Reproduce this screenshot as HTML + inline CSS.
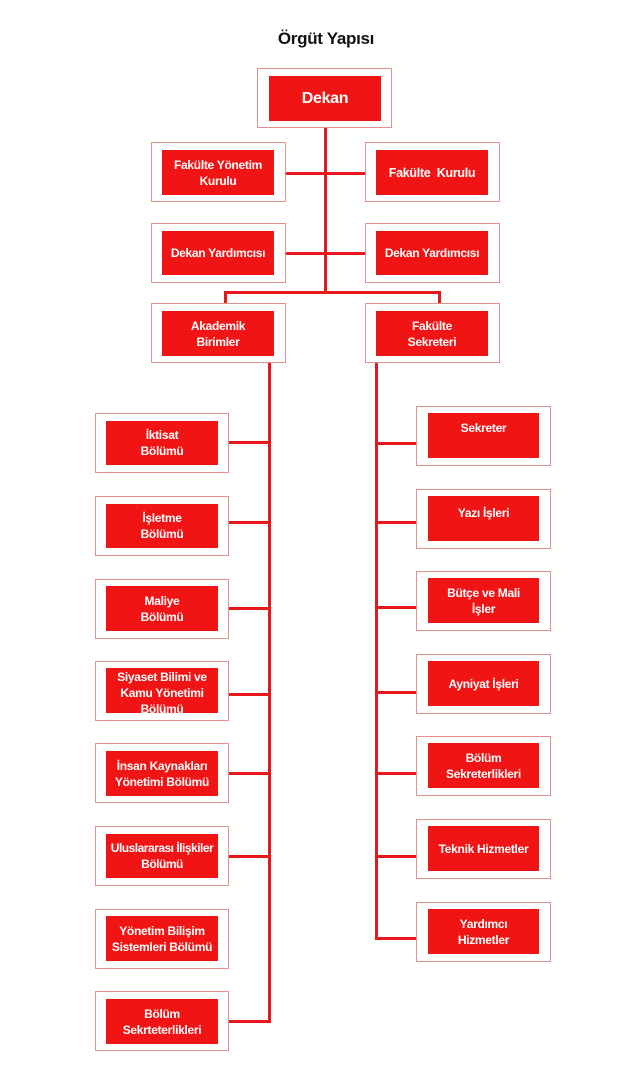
<!DOCTYPE html>
<html><head><meta charset="utf-8"><style>
html,body{margin:0;padding:0;background:#fff;}
body{width:625px;height:1080px;position:relative;overflow:hidden;font-family:"Liberation Sans",Arial,sans-serif;}
.t{position:absolute;left:0;width:652px;top:29px;text-align:center;font-weight:bold;font-size:17px;color:#111;letter-spacing:-0.3px;}
.o{position:absolute;box-sizing:border-box;border:1.5px solid #e0928a;background:#fff;}
.i{position:absolute;background:#f01414;color:#fff;font-weight:bold;font-size:12px;line-height:16px;letter-spacing:-0.3px;text-align:center;display:flex;align-items:center;justify-content:center;white-space:nowrap;box-sizing:border-box;}
.l{position:absolute;background:#e8171c;}
</style></head><body>
<div class="t">Örgüt Yapısı</div>

<!-- lines -->
<div class="l" style="left:324px;top:128px;width:3px;height:166px;"></div>
<div class="l" style="left:286px;top:172px;width:79px;height:3px;"></div>
<div class="l" style="left:286px;top:252px;width:79px;height:3px;"></div>
<div class="l" style="left:224px;top:291px;width:217px;height:3px;"></div>
<div class="l" style="left:224px;top:291px;width:3px;height:12px;"></div>
<div class="l" style="left:438px;top:291px;width:3px;height:12px;"></div>
<div class="l" style="left:268px;top:363px;width:3px;height:660px;"></div>
<div class="l" style="left:375px;top:363px;width:3px;height:577px;"></div>

<div class="l" style="left:229px;top:441px;width:40px;height:3px;"></div>
<div class="l" style="left:229px;top:521px;width:40px;height:3px;"></div>
<div class="l" style="left:229px;top:607px;width:40px;height:3px;"></div>
<div class="l" style="left:229px;top:693px;width:40px;height:3px;"></div>
<div class="l" style="left:229px;top:772px;width:40px;height:3px;"></div>
<div class="l" style="left:229px;top:855px;width:40px;height:3px;"></div>
<div class="l" style="left:229px;top:1020px;width:40px;height:3px;"></div>

<div class="l" style="left:376px;top:442px;width:40px;height:3px;"></div>
<div class="l" style="left:376px;top:521px;width:40px;height:3px;"></div>
<div class="l" style="left:376px;top:606px;width:40px;height:3px;"></div>
<div class="l" style="left:376px;top:691px;width:40px;height:3px;"></div>
<div class="l" style="left:376px;top:772px;width:40px;height:3px;"></div>
<div class="l" style="left:376px;top:855px;width:40px;height:3px;"></div>
<div class="l" style="left:376px;top:937px;width:40px;height:3px;"></div>

<!-- Dekan -->
<div class="o" style="left:257px;top:68px;width:135px;height:60px;"></div>
<div class="i" style="left:269px;top:76px;width:112px;height:45px;font-size:16px;">Dekan</div>

<!-- row 2 -->
<div class="o" style="left:151px;top:142px;width:135px;height:60px;"></div>
<div class="i" style="left:162px;top:150px;width:112px;height:45px;">Fakülte Yönetim<br>Kurulu</div>
<div class="o" style="left:365px;top:142px;width:135px;height:60px;"></div>
<div class="i" style="left:376px;top:150px;width:112px;height:45px;font-size:12.5px;">Fakülte&nbsp; Kurulu</div>

<!-- row 3 -->
<div class="o" style="left:151px;top:223px;width:135px;height:60px;"></div>
<div class="i" style="left:162px;top:231px;width:112px;height:44px;">Dekan Yardımcısı</div>
<div class="o" style="left:365px;top:223px;width:135px;height:60px;"></div>
<div class="i" style="left:376px;top:231px;width:112px;height:44px;">Dekan Yardımcısı</div>

<!-- row 4 -->
<div class="o" style="left:151px;top:303px;width:135px;height:60px;"></div>
<div class="i" style="left:162px;top:311px;width:112px;height:45px;">Akademik<br>Birimler</div>
<div class="o" style="left:365px;top:303px;width:135px;height:60px;"></div>
<div class="i" style="left:376px;top:311px;width:112px;height:45px;">Fakülte<br>Sekreteri</div>

<!-- left column -->
<div class="o" style="left:95px;top:413px;width:134px;height:60px;"></div>
<div class="i" style="left:106px;top:421px;width:112px;height:44px;">İktisat<br>Bölümü</div>
<div class="o" style="left:95px;top:496px;width:134px;height:60px;"></div>
<div class="i" style="left:106px;top:504px;width:112px;height:44px;">İşletme<br>Bölümü</div>
<div class="o" style="left:95px;top:579px;width:134px;height:60px;"></div>
<div class="i" style="left:106px;top:586px;width:112px;height:45px;">Maliye<br>Bölümü</div>
<div class="o" style="left:95px;top:661px;width:134px;height:60px;"></div>
<div class="i" style="left:106px;top:668px;width:112px;height:45px;align-items:flex-start;padding-top:1px;overflow:visible;">Siyaset Bilimi ve<br>Kamu Yönetimi<br>Bölümü</div>
<div class="o" style="left:95px;top:743px;width:134px;height:60px;"></div>
<div class="i" style="left:106px;top:751px;width:112px;height:45px;">İnsan Kaynakları<br>Yönetimi Bölümü</div>
<div class="o" style="left:95px;top:826px;width:134px;height:60px;"></div>
<div class="i" style="left:106px;top:834px;width:112px;height:44px;letter-spacing:-0.5px;">Uluslararası İlişkiler<br>Bölümü</div>
<div class="o" style="left:95px;top:909px;width:134px;height:60px;"></div>
<div class="i" style="left:106px;top:916px;width:112px;height:45px;">Yönetim Bilişim<br>Sistemleri Bölümü</div>
<div class="o" style="left:95px;top:991px;width:134px;height:60px;"></div>
<div class="i" style="left:106px;top:999px;width:112px;height:45px;">Bölüm<br>Sekrteterlikleri</div>

<!-- right column -->
<div class="o" style="left:416px;top:406px;width:135px;height:60px;"></div>
<div class="i" style="left:428px;top:413px;width:111px;height:45px;align-items:flex-start;padding-top:7px;">Sekreter</div>
<div class="o" style="left:416px;top:489px;width:135px;height:60px;"></div>
<div class="i" style="left:428px;top:496px;width:111px;height:45px;align-items:flex-start;padding-top:9px;">Yazı İşleri</div>
<div class="o" style="left:416px;top:571px;width:135px;height:60px;"></div>
<div class="i" style="left:428px;top:578px;width:111px;height:45px;">Bütçe ve Mali<br>İşler</div>
<div class="o" style="left:416px;top:654px;width:135px;height:60px;"></div>
<div class="i" style="left:428px;top:661px;width:111px;height:45px;">Ayniyat İşleri</div>
<div class="o" style="left:416px;top:736px;width:135px;height:60px;"></div>
<div class="i" style="left:428px;top:743px;width:111px;height:45px;">Bölüm<br>Sekreterlikleri</div>
<div class="o" style="left:416px;top:819px;width:135px;height:60px;"></div>
<div class="i" style="left:428px;top:826px;width:111px;height:45px;">Teknik Hizmetler</div>
<div class="o" style="left:416px;top:902px;width:135px;height:60px;"></div>
<div class="i" style="left:428px;top:909px;width:111px;height:45px;">Yardımcı<br>Hizmetler</div>
</body></html>
